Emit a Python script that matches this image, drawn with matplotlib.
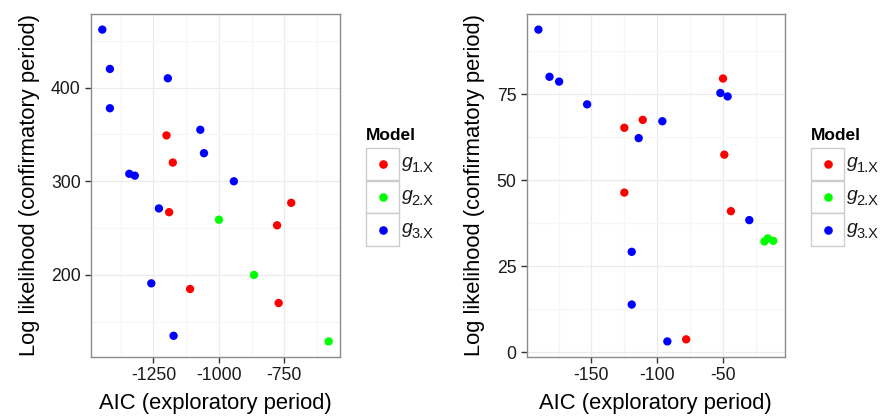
import matplotlib
matplotlib.use("Agg")
import matplotlib.pyplot as plt
from matplotlib.lines import Line2D
from matplotlib.patches import Rectangle
from matplotlib.ticker import FixedLocator

plt.rcParams["font.family"] = ["Liberation Sans", "DejaVu Sans"]
plt.rcParams["axes.unicode_minus"] = False

# ---- data: left panel ----
left_g1_aic = [-1200, -1176, -1190, -1110, -724, -778, -772]
left_g1_ll = [349, 320, 267, 185, 277, 253, 170]
left_g2_aic = [-1000, -866, -581]
left_g2_ll = [259, 200, 129]
left_g3_aic = [-1445, -1416, -1416, -1195, -1071, -1057, -1342, -1321, -943, -1229, -1258, -1173]
left_g3_ll = [462, 420, 378, 410, 355, 330, 308, 306, 300, 271, 191, 135]

# ---- data: right panel ----
right_g1_aic = [-50, -49, -44, -125, -111, -125, -78]
right_g1_ll = [79.5, 57.4, 41.0, 65.2, 67.5, 46.4, 3.8]
right_g2_aic = [-18.5, -16.0, -11.8]
right_g2_ll = [32.2, 33.1, 32.4]
right_g3_aic = [-190.3, -181.9, -174.6, -153.3, -114.1, -96.1, -52.0, -46.5, -30.0, -119.4, -119.4, -92.3]
right_g3_ll = [93.7, 80.0, 78.6, 72.0, 62.2, 67.1, 75.3, 74.3, 38.4, 29.2, 13.9, 3.2]

model_subscripts = ["1.X", "2.X", "3.X"]
colors = ["#FF0000", "#00FF00", "#0000FF"]

left_xticks = [-1250, -1000, -750]
left_xminor = [-1375, -1125, -875, -625]
left_yticks = [200, 300, 400]
left_yminor = [150, 250, 350, 450]
right_xticks = [-150, -100, -50]
right_xminor = [-175, -125, -75, -25]
right_yticks = [0, 25, 50, 75]
right_yminor = [12.5, 37.5, 62.5, 87.5]

W, H = 880, 418
fig = plt.figure(figsize=(W / 100, H / 100), dpi=100)

ax_l = fig.add_axes([91 / W, (H - 357) / H, 249 / W, 343 / H])
ax_r = fig.add_axes([526.7 / W, (H - 357) / H, 258.3 / W, 343 / H])

panels = [
    (ax_l, [(left_g1_aic, left_g1_ll), (left_g2_aic, left_g2_ll), (left_g3_aic, left_g3_ll)],
     left_xticks, left_xminor, left_yticks, left_yminor),
    (ax_r, [(right_g1_aic, right_g1_ll), (right_g2_aic, right_g2_ll), (right_g3_aic, right_g3_ll)],
     right_xticks, right_xminor, right_yticks, right_yminor),
]

for ax, groups, xt, xm, yt, ym in panels:
    for (xs, ys), c in zip(groups, colors):
        ax.scatter(xs, ys, s=36, color=c, edgecolors="none", zorder=3)
    ax.margins(0.05)
    ax.xaxis.set_major_locator(FixedLocator(xt))
    ax.xaxis.set_minor_locator(FixedLocator(xm))
    ax.yaxis.set_major_locator(FixedLocator(yt))
    ax.yaxis.set_minor_locator(FixedLocator(ym))
    ax.grid(which="major", color="#EBEBEB", linewidth=0.9, zorder=0)
    ax.grid(which="minor", color="#F6F6F6", linewidth=0.9, zorder=0)
    ax.set_axisbelow(True)
    for sp in ax.spines.values():
        sp.set_color("#8C8C8C")
        sp.set_linewidth(1.0)
    ax.tick_params(which="major", length=4.5, width=1.0, color="#333333",
                   labelsize=12.7, labelcolor="#1A1A1A", pad=3)
    ax.tick_params(which="minor", length=0)
    ax.set_xlabel("AIC (exploratory period)", fontsize=15.8, labelpad=6)
    ax.set_ylabel("Log likelihood (confirmatory period)", fontsize=15.8, labelpad=8)

# ---- legends ----
def draw_legend(x0):
    fig.text(x0 / W, 1 - 135 / H, "Model", fontsize=12.5, fontweight="bold",
             ha="left", va="center")
    tops = [147.5, 180.5, 213.5]
    for top, c, sub in zip(tops, colors, model_subscripts):
        fig.add_artist(Rectangle((x0 / W, 1 - (top + 32.5) / H), 33 / W, 32.5 / H,
                                 transform=fig.transFigure, facecolor="white",
                                 edgecolor="#CCCCCC", linewidth=1.0))
        cy = 1 - (top + 16.5) / H
        fig.add_artist(Line2D([(x0 + 16.5) / W], [cy], marker="o", markersize=6.2,
                              color=c, markeredgewidth=0, linestyle="none",
                              transform=fig.transFigure))
        fig.text((x0 + 36) / W, cy + 1.5 / H, "g", fontsize=14, style="italic",
                 ha="left", va="center", color="#1A1A1A")
        fig.text((x0 + 45.5) / W, cy - 3.5 / H, sub, fontsize=10.5, ha="left",
                 va="center", color="#1A1A1A")

draw_legend(366)
draw_legend(811)

fig.savefig("out.png", dpi=100)
